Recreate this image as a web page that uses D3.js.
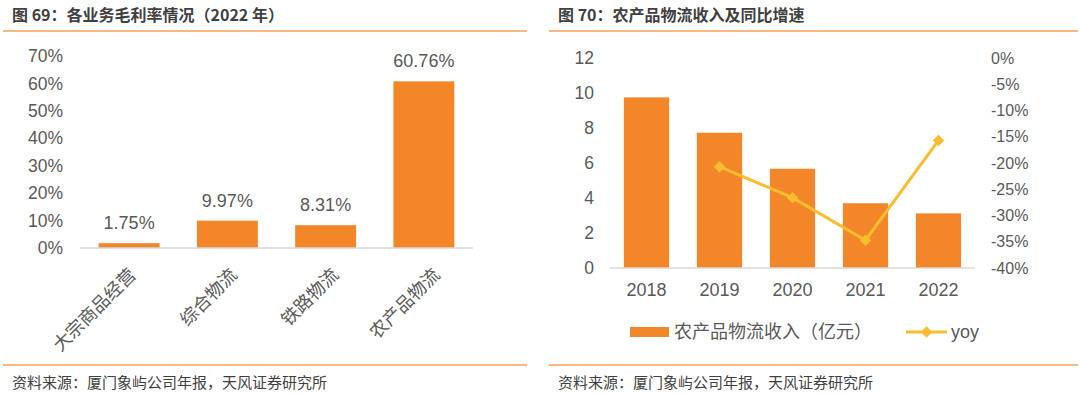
<!DOCTYPE html>
<html>
<head>
<meta charset="utf-8">
<script src="https://cdn.jsdelivr.net/npm/d3@7"></script>
<style>
  body { margin: 0; background: #fff; }
  svg text { font-family: "Liberation Sans", "Noto Sans CJK SC", sans-serif; }
</style>
</head>
<body>
<svg id="chart" width="1080" height="395"></svg>
<script>
// left chart: gross margin by business (2022)
const segments = ["大宗商品经营", "综合物流", "铁路物流", "农产品物流"];
const margins = [1.75, 9.97, 8.31, 60.76];
const marginTicks = [0, 10, 20, 30, 40, 50, 60, 70];

// right chart: agri logistics revenue and yoy
const years = ["2018", "2019", "2020", "2021", "2022"];
const revenue = [9.75, 7.73, 5.67, 3.70, 3.12];
const yoy = [null, -20.7, -26.6, -34.7, -15.7];
const revTicks = [0, 2, 4, 6, 8, 10, 12];
const yoyTicks = [0, -5, -10, -15, -20, -25, -30, -35, -40];

const orange = "#F4862A";
const gold = "#FBBC2E";
const grey = "#595959";
const cjk = '"Noto Sans CJK SC", sans-serif';

const svg = d3.select("#chart");

// frame: titles, rules, sources
function frame(x0, x1, title) {
  svg.append("text").attr("x", x0 + 9).attr("y", 21)
    .style("font-family", cjk).style("font-size", "16px").style("font-weight", "bold")
    .attr("fill", "#404040").text(title);
  svg.append("line").attr("x1", x0).attr("x2", x1).attr("y1", 31).attr("y2", 31)
    .attr("stroke", "#F5A05A").attr("stroke-width", 1.5);
  svg.append("line").attr("x1", x0).attr("x2", x1).attr("y1", 365).attr("y2", 365)
    .attr("stroke", "#F5A05A").attr("stroke-width", 1.5);
  svg.append("text").attr("x", x0 + 9).attr("y", 388)
    .style("font-family", cjk).style("font-size", "15px")
    .attr("fill", "#404040").text("资料来源：厦门象屿公司年报，天风证券研究所");
}
frame(3, 527, "图 69：各业务毛利率情况（2022 年）");
frame(549, 1078, "图 70：农产品物流收入及同比增速");

// ---- left chart
const x1 = d3.scaleBand().domain(segments).range([80, 473]).paddingInner(0.38).paddingOuter(0.19);
const y1 = d3.scaleLinear().domain([0, 70]).range([248, 56]);
// rotated category labels sit slightly right of the bars, as in the original
const xLab = d3.scalePoint().domain(segments).range([137, 441]);

svg.append("g").selectAll("text").data(marginTicks).join("text")
  .attr("x", 63).attr("y", d => y1(d)).attr("dy", "0.35em")
  .attr("text-anchor", "end").style("font-size", "17.5px").attr("fill", grey)
  .text(d => d + "%");

svg.append("g").selectAll("rect").data(margins).join("rect")
  .attr("x", (d, i) => x1(segments[i])).attr("width", x1.bandwidth())
  .attr("y", d => y1(d)).attr("height", d => y1(0) - y1(d))
  .attr("fill", orange);

svg.append("line").attr("x1", 80).attr("x2", 473).attr("y1", y1(0)).attr("y2", y1(0))
  .attr("stroke", "#D9D9D9").attr("stroke-width", 1.5);

svg.append("g").selectAll("text").data(margins).join("text")
  .attr("x", (d, i) => x1(segments[i]) + x1.bandwidth() / 2)
  .attr("y", d => y1(d) - 14)
  .attr("text-anchor", "middle").style("font-size", "18px").attr("fill", grey)
  .text(d => d.toFixed(2) + "%");

svg.append("g").selectAll("text").data(segments).join("text")
  .attr("transform", d => `translate(${xLab(d)},${y1(0) + 28}) rotate(-45)`)
  .attr("text-anchor", "end").style("font-family", cjk).style("font-size", "18px")
  .attr("fill", grey).text(d => d);

// ---- right chart
const x2 = d3.scaleBand().domain(years).range([610, 975]).paddingInner(0.38).paddingOuter(0.19);
const y2 = d3.scaleLinear().domain([0, 12]).range([268, 58]);
const y3 = d3.scaleLinear().domain([-40, 0]).range([268, 58]);

svg.append("g").selectAll("text").data(revTicks).join("text")
  .attr("x", 594).attr("y", d => y2(d)).attr("dy", "0.35em")
  .attr("text-anchor", "end").style("font-size", "17.5px").attr("fill", grey)
  .text(d => d);

svg.append("g").selectAll("text").data(yoyTicks).join("text")
  .attr("x", 991).attr("y", d => y3(d)).attr("dy", "0.35em")
  .style("font-size", "16px").attr("fill", grey)
  .text(d => d + "%");

svg.append("g").selectAll("rect").data(revenue).join("rect")
  .attr("x", (d, i) => x2(years[i])).attr("width", x2.bandwidth())
  .attr("y", d => y2(d)).attr("height", d => y2(0) - y2(d))
  .attr("fill", orange);

svg.append("line").attr("x1", 610).attr("x2", 975).attr("y1", y2(0)).attr("y2", y2(0))
  .attr("stroke", "#D9D9D9").attr("stroke-width", 1.5);

svg.append("g").selectAll("text").data(years).join("text")
  .attr("x", d => x2(d) + x2.bandwidth() / 2).attr("y", 290).attr("dy", "0.35em")
  .attr("text-anchor", "middle").style("font-size", "18px").attr("fill", grey)
  .text(d => d);

const pts = years.map((yr, i) => ({ yr, v: yoy[i] })).filter(d => d.v !== null);
const line = d3.line().x(d => x2(d.yr) + x2.bandwidth() / 2).y(d => y3(d.v));
svg.append("path").datum(pts).attr("d", line)
  .attr("fill", "none").attr("stroke", gold).attr("stroke-width", 3);

const diamond = d3.symbol().type(d3.symbolDiamond2).size(85);
svg.append("g").selectAll("path").data(pts).join("path")
  .attr("transform", d => `translate(${x2(d.yr) + x2.bandwidth() / 2},${y3(d.v)})`)
  .attr("d", diamond).attr("fill", gold);

// legend
const legY = 332;
svg.append("rect").attr("x", 630).attr("y", legY - 5).attr("width", 39).attr("height", 10).attr("fill", orange);
svg.append("text").attr("x", 674).attr("y", legY).attr("dy", "0.35em")
  .style("font-family", cjk).style("font-size", "18px").attr("fill", grey)
  .text("农产品物流收入（亿元）");
svg.append("line").attr("x1", 906).attr("x2", 947).attr("y1", legY).attr("y2", legY)
  .attr("stroke", gold).attr("stroke-width", 3);
svg.append("path").attr("transform", `translate(926.5,${legY})`).attr("d", diamond).attr("fill", gold);
svg.append("text").attr("x", 951).attr("y", legY).attr("dy", "0.35em")
  .style("font-size", "18px").attr("fill", grey).text("yoy");
</script>
</body>
</html>
